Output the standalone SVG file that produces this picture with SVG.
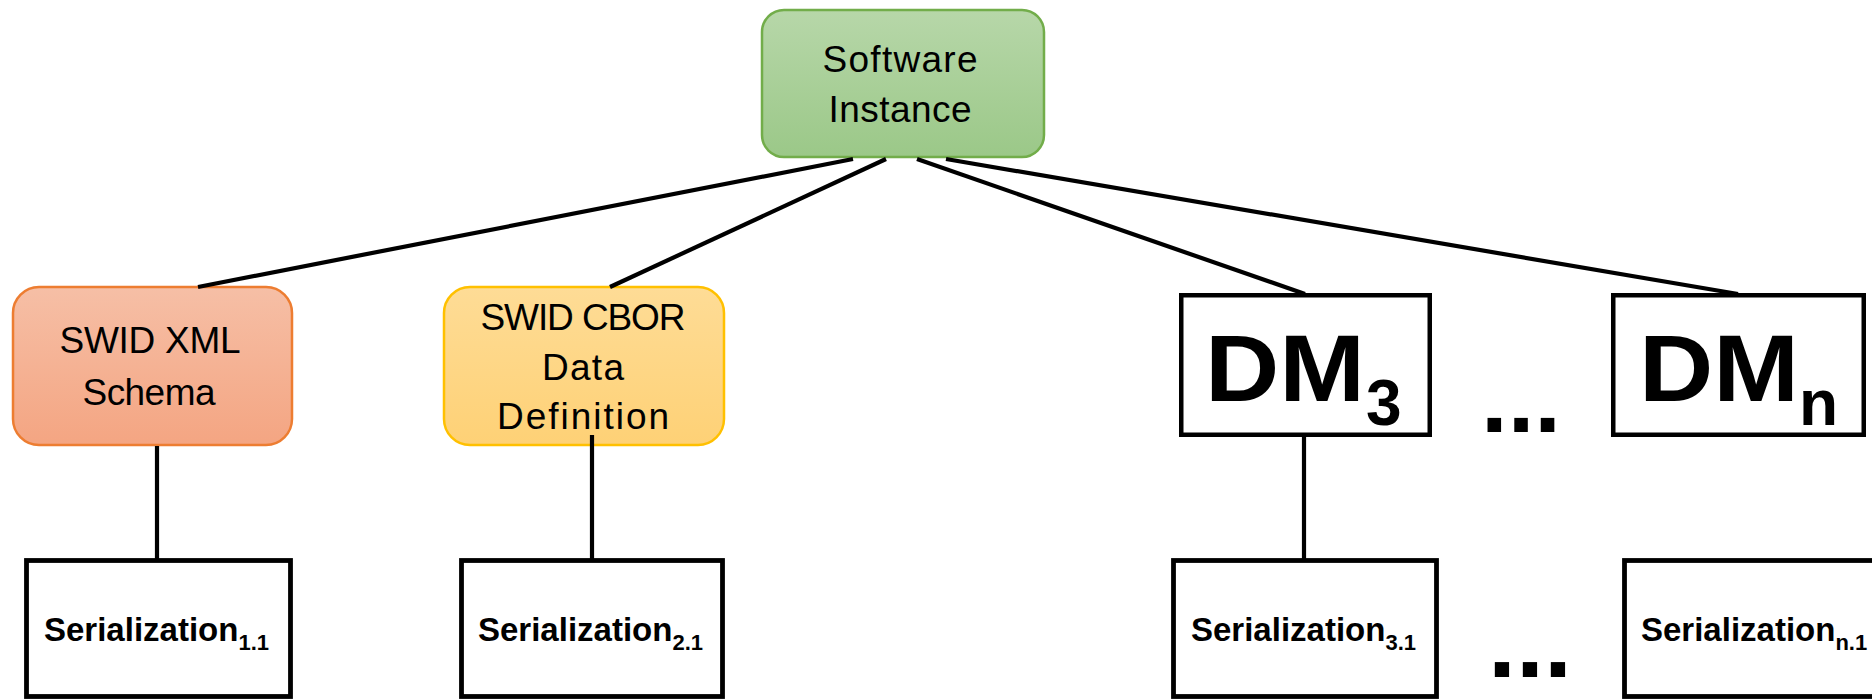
<svg xmlns="http://www.w3.org/2000/svg" width="1872" height="699" viewBox="0 0 1872 699">
  <defs>
    <linearGradient id="gGreen" x1="0" y1="0" x2="0" y2="1">
      <stop offset="0" stop-color="#b7d7a9"/>
      <stop offset="1" stop-color="#9bc888"/>
    </linearGradient>
    <linearGradient id="gOrange" x1="0" y1="0" x2="0" y2="1">
      <stop offset="0" stop-color="#f6bfa6"/>
      <stop offset="1" stop-color="#f4a582"/>
    </linearGradient>
    <linearGradient id="gYellow" x1="0" y1="0" x2="0" y2="1">
      <stop offset="0" stop-color="#fedc96"/>
      <stop offset="1" stop-color="#fed176"/>
    </linearGradient>
  </defs>
  <style>
    .lbl { font-family: "Liberation Sans", Arial, sans-serif; fill: #000; }
    .reg { font-size: 37px; text-anchor: middle; }
    .ser { font-size: 33px; font-weight: bold; }
    .sub { font-size: 22px; }
    .dm { font-size: 95px; font-weight: bold; }
    .dmsub { font-size: 64px; font-weight: bold; }
    .box { fill: #fff; stroke: #000; }
    .conn { stroke: #000; stroke-width: 4.2; fill: none; }
  </style>
  <rect width="1872" height="699" fill="#fff"/>

  <g id="software-instance">
    <rect x="762" y="10" width="282" height="147" rx="22" fill="url(#gGreen)" stroke="#72ad4a" stroke-width="2.5"/>
    <text class="lbl reg" x="900" y="72" textLength="155">Software</text>
    <text class="lbl reg" x="900" y="122" textLength="143">Instance</text>
  </g>

  <g id="swid-xml">
    <rect x="13" y="287" width="279" height="158" rx="26" fill="url(#gOrange)" stroke="#ed7d31" stroke-width="2.5"/>
    <text class="lbl reg" x="150" y="353" textLength="181">SWID XML</text>
    <text class="lbl reg" x="149" y="405" textLength="133">Schema</text>
  </g>

  <g id="swid-cbor">
    <rect x="444" y="287" width="280" height="158" rx="26" fill="url(#gYellow)" stroke="#ffc000" stroke-width="2.5"/>
    <text class="lbl reg" x="583" y="330" textLength="205">SWID CBOR</text>
    <text class="lbl reg" x="583" y="380" textLength="82">Data</text>
    <text class="lbl reg" x="583" y="429" textLength="172">Definition</text>
  </g>

  <g id="dm3">
    <rect class="box" x="1181.25" y="295.25" width="248.5" height="139.5" stroke-width="4.5"/>
    <text class="lbl dm" x="1205" y="401" textLength="160" lengthAdjust="spacingAndGlyphs">DM</text>
    <text class="lbl dmsub" x="1366" y="425">3</text>
  </g>

  <g id="dots-top">
    <text class="lbl dm" x="1481" y="432" textLength="80" lengthAdjust="spacingAndGlyphs">...</text>
  </g>

  <g id="dmn">
    <rect class="box" x="1613.25" y="295.25" width="250.5" height="139.5" stroke-width="4.5"/>
    <text class="lbl dm" x="1639" y="401" textLength="160" lengthAdjust="spacingAndGlyphs">DM</text>
    <text class="lbl dmsub" x="1799" y="425">n</text>
  </g>

  <g id="ser-1-1">
    <rect class="box" x="26.5" y="560.5" width="264" height="136" stroke-width="4.8"/>
    <text class="lbl ser" x="44" y="641">Serialization<tspan class="sub" dy="9">1.1</tspan></text>
  </g>

  <g id="ser-2-1">
    <rect class="box" x="461.5" y="560.5" width="261" height="136" stroke-width="4.8"/>
    <text class="lbl ser" x="478" y="641">Serialization<tspan class="sub" dy="9">2.1</tspan></text>
  </g>

  <g id="ser-3-1">
    <rect class="box" x="1173.5" y="560.5" width="263" height="136" stroke-width="4.8"/>
    <text class="lbl ser" x="1191" y="641">Serialization<tspan class="sub" dy="9">3.1</tspan></text>
  </g>

  <g id="dots-bottom">
    <text class="lbl" x="1488" y="677" font-size="100" font-weight="bold" textLength="84" lengthAdjust="spacingAndGlyphs">...</text>
  </g>

  <g id="ser-n-1">
    <rect class="box" x="1624.5" y="560.5" width="300" height="136" stroke-width="4.8"/>
    <text class="lbl ser" x="1641" y="641">Serialization<tspan class="sub" dy="9">n.1</tspan></text>
  </g>

  <g id="connectors">
    <line class="conn" x1="853" y1="159" x2="198" y2="287"/>
    <line class="conn" x1="886" y1="159" x2="610" y2="287"/>
    <line class="conn" x1="917" y1="159" x2="1305" y2="294"/>
    <line class="conn" x1="946" y1="159" x2="1738" y2="294"/>
    <line class="conn" x1="157" y1="446" x2="157" y2="559"/>
    <line class="conn" x1="592" y1="435" x2="592" y2="559"/>
    <line class="conn" x1="1304" y1="437" x2="1304" y2="559"/>
  </g>
</svg>
